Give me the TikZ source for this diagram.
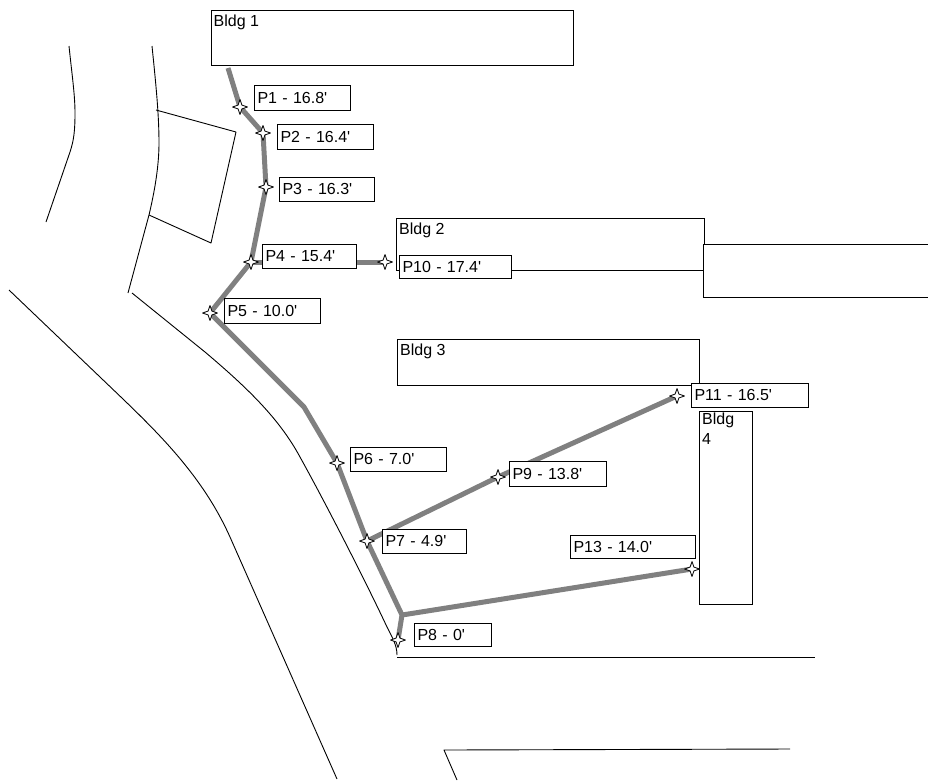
\documentclass[tikz,border=0pt]{standalone}
\usepackage{fontspec}
\setmainfont{Liberation Sans}
\usetikzlibrary{shapes.geometric,backgrounds}
\tikzset{
  lbl/.style={draw=black,line width=1pt,fill=white,rectangle,anchor=north west,inner xsep=3pt,inner ysep=0pt,align=left,font=\fontsize{16}{19}\selectfont},
  bldg/.style={draw=black,line width=0.9pt,fill=white,rectangle,anchor=north west,inner sep=0pt,font=\fontsize{16}{19}\selectfont},
  bldglbl/.style={anchor=north west,inner xsep=3pt,inner ysep=5pt,align=left,font=\fontsize{16}{20}\selectfont},
  pole/.style={star,star points=4,star point ratio=2.8,draw=black,line width=0.8pt,line join=round,fill=white,minimum size=15pt,inner sep=0pt},
  pipe/.style={draw=black!50,line width=5pt,line join=round,line cap=butt},
  thin/.style={draw=black,line width=0.9pt,line join=round}
}
\newcommand{\lbox}[6]{\node[lbl,minimum width=#4pt-#2pt,minimum height=#5pt-#3pt,text width=#4pt-#2pt-6pt] (#1) at (#2,#3) {\raisebox{0.7pt}{#6}};}
\newcommand{\qs}{\textquotesingle}
\begin{document}
\begin{tikzpicture}[x=1pt,y=-1pt]
\useasboundingbox (0,0) rectangle (928,780);
% buildings
\node[bldg,minimum width=362.5pt,minimum height=55.5pt] (b1) at (210.5,9.5) {};
\node[bldglbl] at (b1.north west) {Bldg 1};
\node[bldg,minimum width=308pt,minimum height=52pt] (b2) at (396,218) {};
\node[bldglbl] at (b2.north west) {Bldg 2};
\node[bldg,minimum width=225pt,minimum height=53pt] (b2e) at (703,244) {};
\node[bldg,minimum width=302pt,minimum height=46pt] (b3) at (397,339) {};
\node[bldglbl] at (b3.north west) {Bldg 3};
\node[bldg,minimum width=53pt,minimum height=193pt] (b4) at (699,411) {};
\node[bldglbl,text width=40pt,inner ysep=2pt] at (b4.north west) {Bldg\\4};
% poles
\coordinate (start) at (228,68);
\coordinate (bend) at (304,407);
\coordinate (junc) at (402,615);
\node[pole] (p1) at (240,107) {};
\node[pole] (p2) at (263,133) {};
\node[pole] (p3) at (266,187) {};
\node[pole] (p4) at (251,262) {};
\node[pole] (p5) at (210,313) {};
\node[pole] (p6) at (337,463) {};
\node[pole] (p7) at (367,541) {};
\node[pole] (p8) at (398,640) {};
\node[pole] (p9) at (498,477) {};
\node[pole] (p10) at (385,262) {};
\node[pole] (p11) at (677,396) {};
\node[pole] (p13) at (692,569) {};
% labels
\lbox{l1}{254}{85}{350}{110}{P1 - 16.8\qs}
\lbox{l2}{277}{124}{373}{149}{P2 - 16.4\qs}
\lbox{l3}{279}{177}{374}{201}{P3 - 16.3\qs}
\lbox{l4}{262}{244}{356}{268}{P4 - 15.4\qs}
\lbox{l5}{224}{298}{320}{323}{P5 - 10.0\qs}
\lbox{l6}{350}{447}{446}{471}{P6 - 7.0\qs}
\lbox{l7}{382}{529}{466}{553}{P7 - 4.9\qs}
\lbox{l8}{414}{623}{491}{646}{P8 - 0\qs}
\lbox{l9}{509}{461}{606}{486}{P9 - 13.8\qs}
\lbox{l10}{399}{255}{511}{278}{P10 - 17.4\qs}
\lbox{l11}{691}{383}{808}{407}{P11 - 16.5\qs}
\lbox{l13}{570}{535}{695}{558}{P13 - 14.0\qs}
\begin{pgfonlayer}{background}
\draw[thin] (69,46) .. controls (72,75) and (75,95) .. (75,113) .. controls (75,130) and (74,140) .. (70,152) -- (46,222);
\draw[thin] (152,46) .. controls (156,85) and (159,115) .. (159,143) .. controls (159,170) and (153,198) .. (149,215) -- (128,293);
\draw[thin] (156,110) -- (236,132) -- (211,243) -- (149,215);
\draw[thin] (132,293) -- (205,352) .. controls (250,390) and (280,420) .. (300,457) .. controls (325,502) and (365,580) .. (387,627) .. controls (392,637) and (397,645) .. (397,655);
\draw[thin] (9,290) -- (100,377) .. controls (150,425) and (200,470) .. (230,537) -- (337,779);
\draw[thin] (397,657) -- (815,657);
\draw[thin] (457,780) -- (444,750) -- (790,749);
\draw[pipe] (start) -- (p1.center) -- (p2.center) -- (p3.center) -- (p4.center) -- (p5.center) -- (bend) -- (p6.center) -- (p7.center) -- (junc) -- (p8.center);
\draw[pipe] (p4.center) -- (p10.center);
\draw[pipe] (p7.center) -- (p9.center) -- (p11.center);
\draw[pipe] (junc) -- (p13.center);
\end{pgfonlayer}
\end{tikzpicture}
\end{document}
